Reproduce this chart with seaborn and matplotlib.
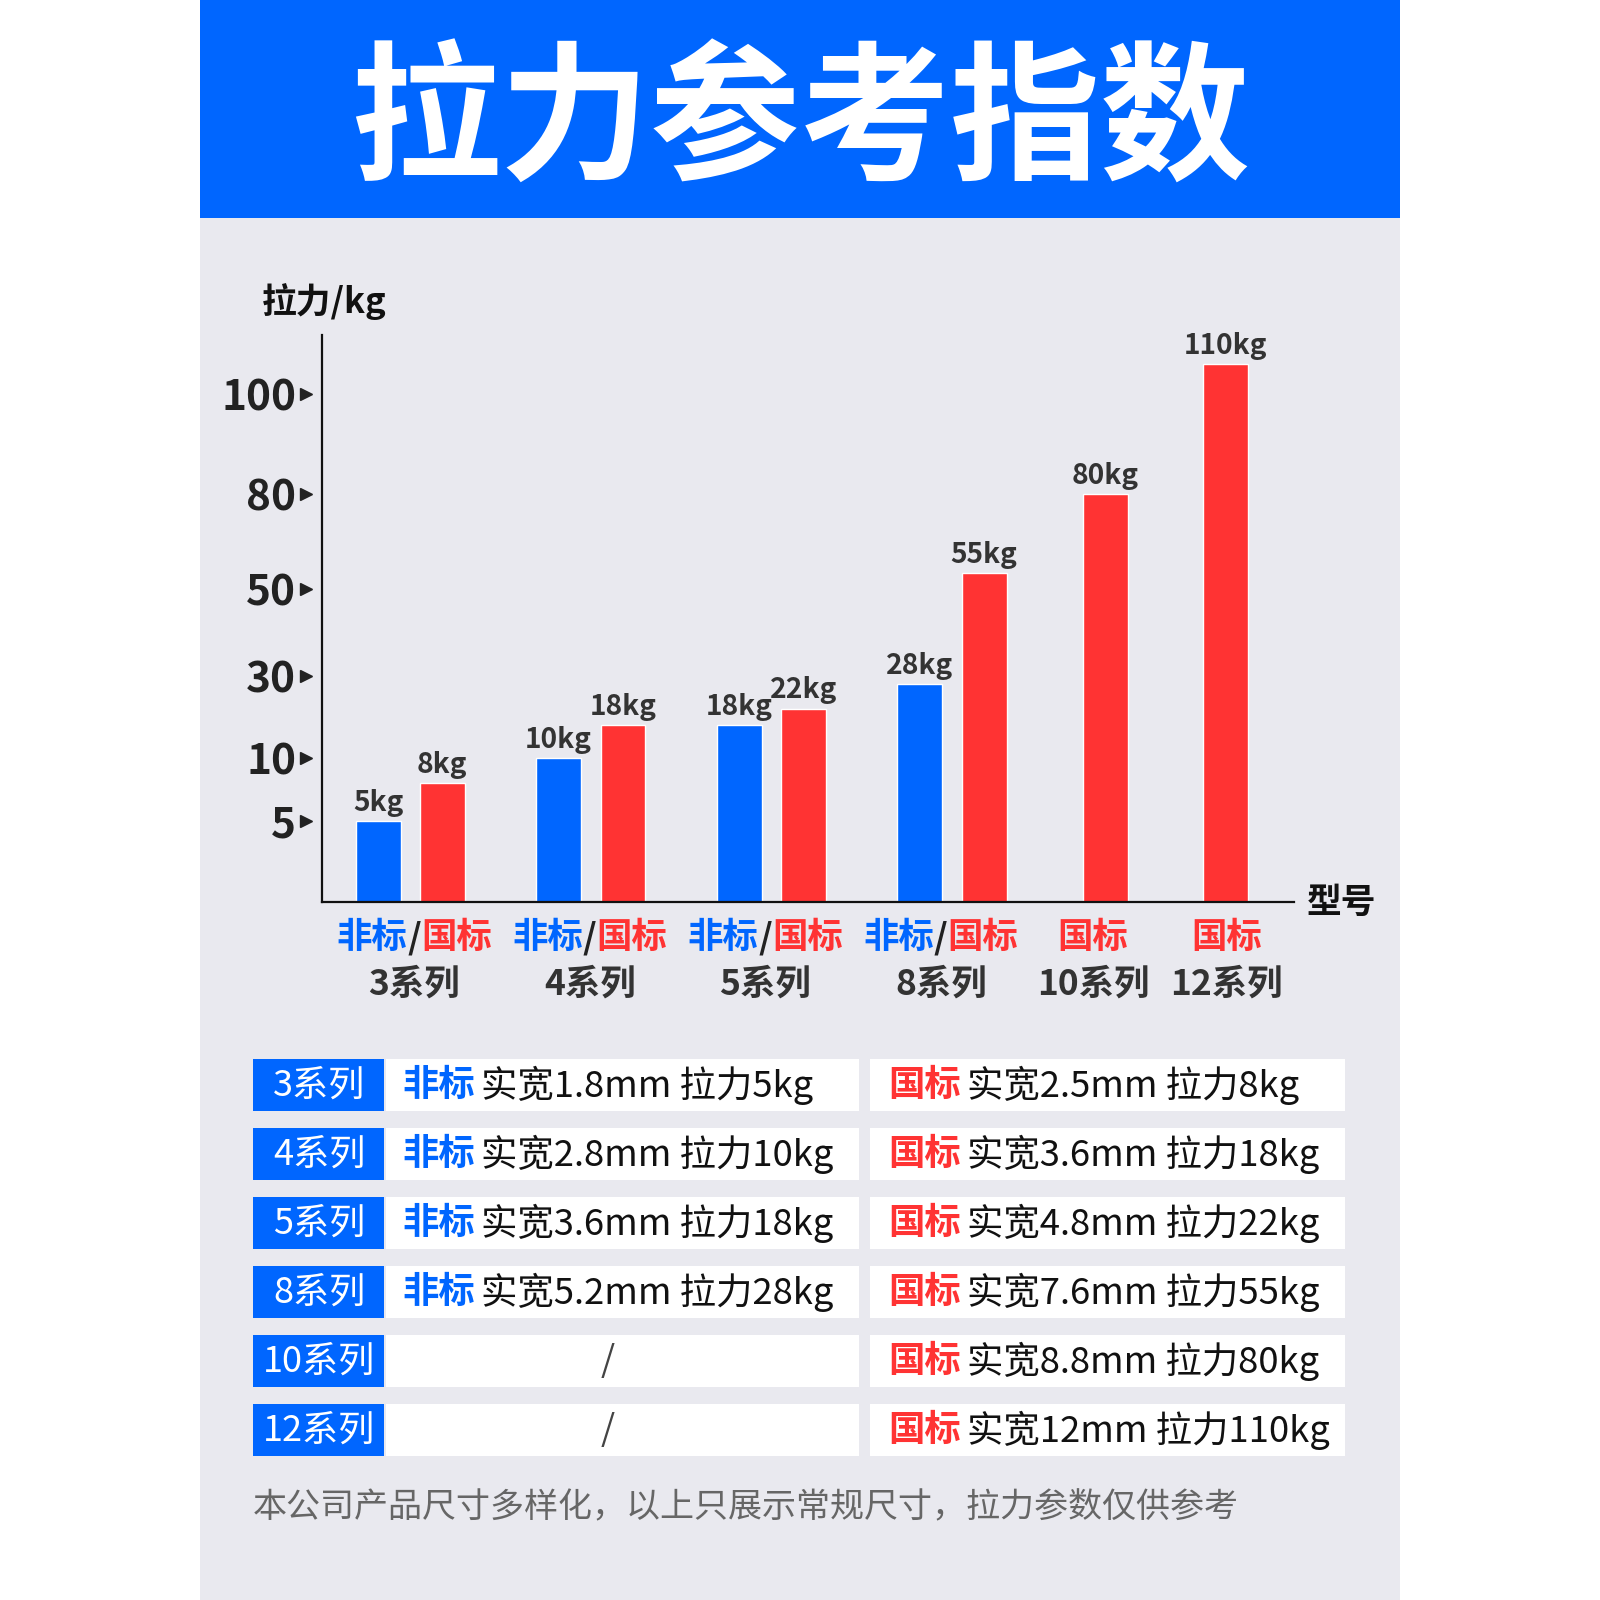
import numpy as np
import pandas as pd
import seaborn as sns
import matplotlib
matplotlib.use("Agg")
import matplotlib.pyplot as plt
import matplotlib.transforms as mtransforms
from matplotlib.patches import Rectangle

# ---------------- data ----------------
series = ["3系列", "4系列", "5系列", "8系列", "10系列", "12系列"]
nonstd_kg = [5, 10, 18, 28, np.nan, np.nan]
std_kg = [8, 18, 22, 55, 80, 110]
nonstd_width = ["1.8mm", "2.8mm", "3.6mm", "5.2mm", None, None]
std_width = ["2.5mm", "3.6mm", "4.8mm", "7.6mm", "8.8mm", "12mm"]
y_ticks = [5, 10, 30, 50, 80, 100]
title = "拉力参考指数"
y_label = "拉力/kg"
x_label = "型号"
footer = "本公司产品尺寸多样化，以上只展示常规尺寸，拉力参数仅供参考"

# ---------------- style ----------------
sns.set_theme(style="white")
plt.rcParams["font.family"] = ["Noto Sans CJK SC", "DejaVu Sans"]
plt.rcParams["axes.unicode_minus"] = False

BLUE = "#0066FF"
RED = "#FF3333"
BG = "#E9E9EF"
DARK = "#222222"

W = 1600
S = W / 1568.0


def px(v):
    return v * S


def fx(x):
    return x / 1568.0


def fy(y):
    return 1 - y / 1568.0


fig = plt.figure(figsize=(16, 16), dpi=100)
fig.patch.set_facecolor("white")
renderer = fig.canvas.get_renderer()
ident = mtransforms.IdentityTransform()

# panel and header
fig.add_artist(Rectangle((fx(196), 0), (1372 - 196) / 1568, fy(214), transform=fig.transFigure,
                         facecolor=BG, edgecolor="none", zorder=-10))
fig.add_artist(Rectangle((fx(196), fy(214)), (1372 - 196) / 1568, 214 / 1568, transform=fig.transFigure,
                         facecolor=BLUE, edgecolor="none", zorder=-10))
fig.text(fx(784), fy(122), title, ha="center", va="center", fontsize=108, weight="bold", color="white")

# ---------------- bar chart ----------------
# layout rule for bar positions (x axis in layout units)
pair_start, pair_step, half = 402, 177, 31.5
single_start, single_step = 1083, 118
label_start, label_step = 406, 172
single_label_start, single_label_step = 1071, 131
rows = []
label_centers = []
n_pairs = sum(0 if np.isnan(v) else 1 for v in nonstd_kg)
for i, (name, n, s) in enumerate(zip(series, nonstd_kg, std_kg)):
    if not np.isnan(n):
        c = pair_start + pair_step * i
        rows.append({"pos": c - half, "kg": n, "std": "非标", "series": name})
        rows.append({"pos": c + half, "kg": s, "std": "国标", "series": name})
        label_centers.append(label_start + label_step * i)
    else:
        c = single_start + single_step * (i - n_pairs)
        rows.append({"pos": c, "kg": s, "std": "国标", "series": name})
        label_centers.append(single_label_start + single_label_step * (i - n_pairs))
df = pd.DataFrame(rows)

ax = fig.add_axes([fx(316), fy(884), (1268 - 316) / 1568, (884 - 328) / 1568])
ax.patch.set_alpha(0)

sns.barplot(data=df, x="pos", y="kg", hue="std", hue_order=["非标", "国标"],
            palette={"非标": BLUE, "国标": RED}, native_scale=True, dodge=False,
            width=44 / 63, saturation=1, legend=False, errorbar=None, ax=ax)

knot_v = [0, 5, 10, 30, 50, 80, 100, 120]
knot_h = [0, 79, 141, 222, 307, 400, 498, 556]


def fwd(v):
    return np.interp(np.asarray(v, dtype=float), knot_v, knot_h)


def inv(h):
    return np.interp(np.asarray(h, dtype=float), knot_h, knot_v)


ax.set_yscale("function", functions=(fwd, inv))
ax.set_ylim(0, 120)
ax.set_xlim(316, 1268)

for cont in ax.containers:
    ax.bar_label(cont, fmt="{:g}kg", padding=3, fontsize=20.3, color="#333333", weight="bold")

for sp in ["top", "right"]:
    ax.spines[sp].set_visible(False)
for sp in ["left", "bottom"]:
    ax.spines[sp].set_color("#111111")
    ax.spines[sp].set_linewidth(1.6)

ax.set_xticks([])
ax.set_yticks(y_ticks)
ax.set_yticklabels([str(t) for t in y_ticks], fontsize=30.5, weight="bold", color=DARK)
ax.tick_params(axis="y", length=0, pad=19)
ax.set_xlabel("")
ax.set_ylabel("")

trans = mtransforms.blended_transform_factory(ax.transAxes, ax.transData)
ax.plot([-16 / 952] * len(y_ticks), y_ticks, linestyle="none", marker=">", ms=8.5,
        color=DARK, transform=trans, clip_on=False)
ax.set_ylim(0, 120)
ax.set_xlim(316, 1268)

fig.text(fx(318), fy(295), y_label, ha="center", va="center", fontsize=25, weight="bold", color="#111111")
fig.text(fx(1315), fy(884), x_label, ha="center", va="center", fontsize=25, weight="bold", color="#111111")


def rich(parts, x, y, ha="center", size=25):
    texts, gaps = [], []
    for p in parts:
        s, color, weight = p[0], p[1], p[2]
        g = p[3] if len(p) > 3 else 0
        t = fig.text(0, y, s, transform=ident, ha="left", va="center", fontsize=size,
                     color=color, weight=weight)
        texts.append(t)
        gaps.append(g)
    widths = [t.get_window_extent(renderer).width for t in texts]
    total = sum(widths) + sum(gaps[1:])
    cur = x - total / 2 if ha == "center" else x
    for k, (t, w) in enumerate(zip(texts, widths)):
        if k > 0:
            cur += gaps[k]
        t.set_x(cur)
        cur += w


# group labels under the x axis
for i, name in enumerate(series):
    xc = ax.transData.transform((label_centers[i], 0))[0]
    if not np.isnan(nonstd_kg[i]):
        parts = [("非标", BLUE, "bold"), ("/", DARK, "bold"), ("国标", RED, "bold")]
    else:
        parts = [("国标", RED, "bold")]
    rich(parts, xc, W - px(919), size=25.5)
    fig.text(xc, W - px(964), name, transform=ident, ha="center", va="center",
             fontsize=25.5, weight="bold", color="#333333")

# ---------------- table ----------------
row_start, row_step, row_h = 1063, 67.6, 51
for i, name in enumerate(series):
    r = row_start + row_step * i
    fig.add_artist(Rectangle((fx(248), fy(r + row_h / 2)), (376 - 248) / 1568, row_h / 1568,
                             transform=fig.transFigure, facecolor=BLUE, edgecolor="none", zorder=-5))
    fig.add_artist(Rectangle((fx(378), fy(r + row_h / 2)), (842 - 378) / 1568, row_h / 1568,
                             transform=fig.transFigure, facecolor="white", edgecolor="none", zorder=-5))
    fig.add_artist(Rectangle((fx(853), fy(r + row_h / 2)), (1318 - 853) / 1568, row_h / 1568,
                             transform=fig.transFigure, facecolor="white", edgecolor="none", zorder=-5))
    fig.text(fx(313), fy(r + 1), name, ha="center", va="center", fontsize=26, color="white")
    if nonstd_width[i] is not None:
        rich([("非标", BLUE, "bold"),
              (f"实宽{nonstd_width[i]} 拉力{nonstd_kg[i]:g}kg", "#111111", "normal", px(6))],
             px(394), W - px(r + 1), ha="left", size=26.2)
    else:
        fig.text(fx(596), fy(r), "/", ha="center", va="center", fontsize=26, color="#444444")
    rich([("国标", RED, "bold"),
          (f"实宽{std_width[i]} 拉力{std_kg[i]:g}kg", "#111111", "normal", px(6))],
         px(870), W - px(r + 1), ha="left", size=26.2)

fig.text(fx(248), fy(1478), footer, ha="left", va="center", fontsize=24.5, color="#666666")

fig.savefig("out.png", dpi=100)
